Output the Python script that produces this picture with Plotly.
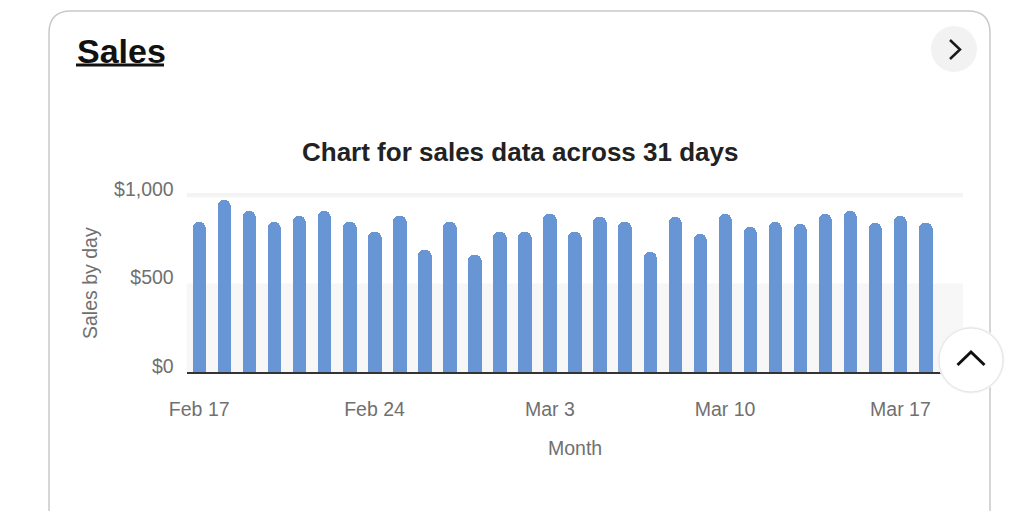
import plotly.graph_objects as go

# ---------------- data ----------------
dates = [
    "2023-02-17", "2023-02-18", "2023-02-19", "2023-02-20", "2023-02-21", "2023-02-22",
    "2023-02-23", "2023-02-24", "2023-02-25", "2023-02-26", "2023-02-27", "2023-02-28",
    "2023-03-01", "2023-03-02", "2023-03-03", "2023-03-04", "2023-03-05", "2023-03-06",
    "2023-03-07", "2023-03-08", "2023-03-09", "2023-03-10", "2023-03-11", "2023-03-12",
    "2023-03-13", "2023-03-14", "2023-03-15", "2023-03-16", "2023-03-17", "2023-03-18",
    "2023-03-19",
]
sales = [
    849, 972, 911, 849, 881, 910, 849, 789, 881, 689,
    849, 661, 789, 789, 893, 789, 874, 849, 676, 874,
    778, 893, 821, 849, 836, 893, 910, 840, 881, 840,
    None,
]
x_tick_vals = ["2023-02-17", "2023-02-24", "2023-03-03", "2023-03-10", "2023-03-17"]
x_tick_text = ["Feb 17", "Feb 24", "Mar 3", "Mar 10", "Mar 17"]
y_tick_vals = [0, 500, 1000]
y_tick_text = ["$0", "$500", "$1,000"]

W, H = 1024, 511


def px(x):
    return x / W


def py(y):
    return 1 - y / H


FONT = "Liberation Sans, Arial, sans-serif"
BAR = "#6896D4"
GREY_TXT = "#707070"

fig = go.Figure()
fig.add_trace(go.Bar(
    x=dates, y=sales,
    width=0.54 * 86400000,
    marker=dict(color=BAR, line=dict(width=0), cornerradius=6),
    hoverinfo="x+y",
))

shapes = []
# card outline
r = 22
x0c, x1c, y0c, ybot = 49, 990, 11, 540
path = (f"M {px(x0c)},{py(ybot)} L {px(x0c)},{py(y0c + r)} "
        f"Q {px(x0c)},{py(y0c)} {px(x0c + r)},{py(y0c)} "
        f"L {px(x1c - r)},{py(y0c)} Q {px(x1c)},{py(y0c)} {px(x1c)},{py(y0c + r)} "
        f"L {px(x1c)},{py(ybot)}")
shapes.append(dict(type="path", xref="paper", yref="paper", path=path,
                   line=dict(color="#c9c9c9", width=1.5), layer="below"))
# background bands
shapes.append(dict(type="rect", xref="x domain", yref="y", x0=0, x1=1, y0=0, y1=500,
                   fillcolor="#f7f7f7", line=dict(width=0), layer="below"))
shapes.append(dict(type="rect", xref="x domain", yref="y", x0=0, x1=1, y0=988, y1=1012,
                   fillcolor="#f4f4f4", line=dict(width=0), layer="below"))
# underline of "Sales"
shapes.append(dict(type="line", xref="paper", yref="paper",
                   x0=px(76), x1=px(164), y0=py(65), y1=py(65),
                   line=dict(color="#111111", width=3)))
# top-right chevron button
cx, cy, cr = 954, 49, 23
shapes.append(dict(type="circle", xref="paper", yref="paper",
                   x0=px(cx - cr), x1=px(cx + cr), y0=py(cy + cr), y1=py(cy - cr),
                   fillcolor="#f2f2f2", line=dict(width=0)))
shapes.append(dict(type="path", xref="paper", yref="paper",
                   path=f"M {px(950)},{py(40)} L {px(960)},{py(49.5)} L {px(950)},{py(59)}",
                   line=dict(color="#1a1a1a", width=2.5)))
# scroll-to-top button
ux, uy, ur = 971, 360, 32
shapes.append(dict(type="circle", xref="paper", yref="paper",
                   x0=px(ux - ur - 1.5), x1=px(ux + ur + 1.5), y0=py(uy + ur + 1.5), y1=py(uy - ur - 1.5),
                   fillcolor="#f3f3f3", line=dict(width=0)))
shapes.append(dict(type="circle", xref="paper", yref="paper",
                   x0=px(ux - ur), x1=px(ux + ur), y0=py(uy + ur), y1=py(uy - ur),
                   fillcolor="#ffffff", line=dict(color="#e4e4e4", width=1)))
shapes.append(dict(type="path", xref="paper", yref="paper",
                   path=f"M {px(957.5)},{py(365)} L {px(971)},{py(352)} L {px(984.5)},{py(365)}",
                   line=dict(color="#111111", width=3)))

annotations = [
    dict(text="<b>Sales</b>", xref="paper", yref="paper", x=px(75), y=py(51),
         xanchor="left", yanchor="middle", showarrow=False,
         font=dict(family=FONT, size=34, color="#111111")),
    dict(text="<b>Chart for sales data across 31 days</b>", xref="paper", yref="paper",
         x=px(520), y=py(152), xanchor="center", yanchor="middle", showarrow=False,
         font=dict(family=FONT, size=26, color="#222222")),
    dict(text="Sales by day", xref="paper", yref="paper", x=px(90), y=py(283),
         xanchor="center", yanchor="middle", textangle=-90, showarrow=False,
         font=dict(family=FONT, size=19.5, color=GREY_TXT)),
    dict(text="Month", xref="paper", yref="paper", x=px(575), y=py(448),
         xanchor="center", yanchor="middle", showarrow=False,
         font=dict(family=FONT, size=19.5, color=GREY_TXT)),
]

fig.update_layout(
    width=W, height=H,
    margin=dict(l=0, r=0, t=0, b=0, pad=0, autoexpand=False),
    paper_bgcolor="white", plot_bgcolor="rgba(0,0,0,0)",
    showlegend=False,
    bargap=0,
    font=dict(family=FONT, color=GREY_TXT),
    shapes=shapes,
    annotations=annotations,
    xaxis=dict(
        domain=[px(186.7), px(963)],
        type="date",
        range=["2023-02-16 12:00", "2023-03-19 12:00"],
        tickvals=x_tick_vals, ticktext=x_tick_text,
        showgrid=False, zeroline=False,
        showline=True, linecolor="#333333", linewidth=2,
        ticks="", ticklabelstandoff=19, automargin=False,
        tickfont=dict(family=FONT, size=19.5, color=GREY_TXT),
        fixedrange=True,
    ),
    yaxis=dict(
        domain=[py(372), py(193)],
        range=[0, 1012],
        tickvals=y_tick_vals, ticktext=y_tick_text,
        showgrid=False, zeroline=False, showline=False,
        ticks="", ticklabelstandoff=12, ticklabelshift=-6, automargin=False,
        tickfont=dict(family=FONT, size=19.5, color=GREY_TXT),
        fixedrange=True,
    ),
)

fig.write_html("out.html", config={"displayModeBar": False},
               post_script="document.body.style.margin='0';document.body.style.overflow='hidden';")
